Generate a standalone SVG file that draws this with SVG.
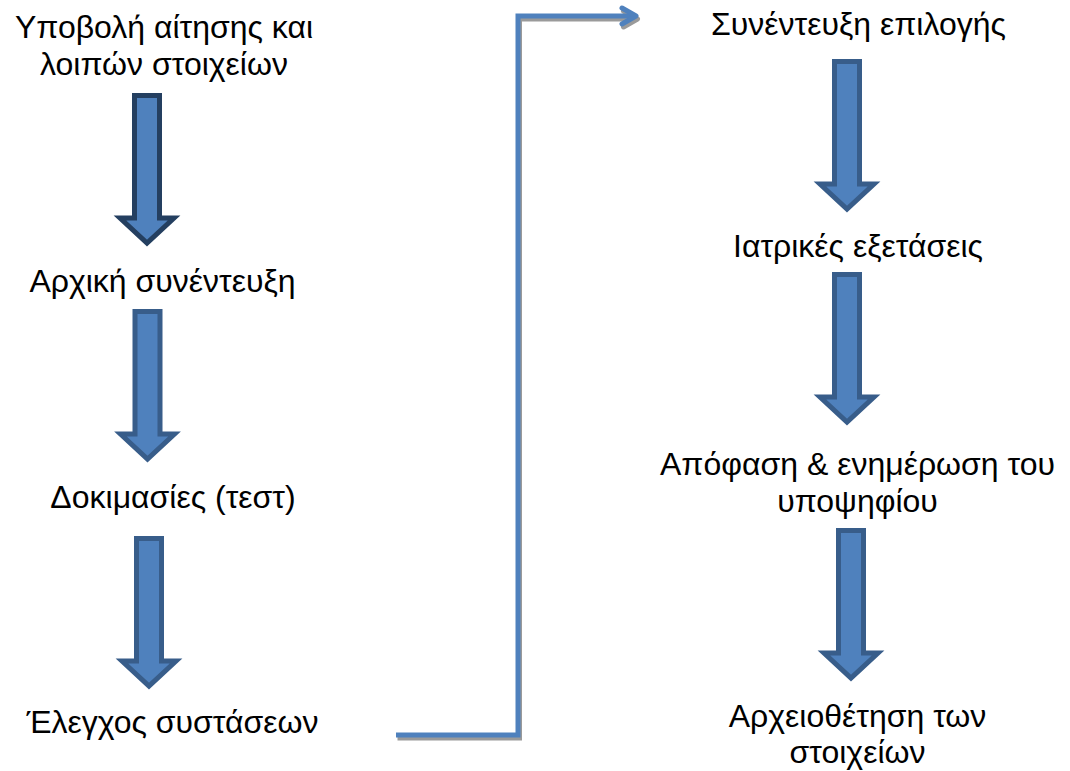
<svg xmlns="http://www.w3.org/2000/svg" width="1070" height="771" viewBox="0 0 1070 771">
<style>
text{font-family:"Liberation Sans",Arial,sans-serif;font-size:32px;fill:#000;text-anchor:middle}
.arr{fill:#4f81bd;stroke:#385d8a;stroke-width:5;stroke-miterlimit:10}
.arr.dark{stroke:#243f60}
.conn{fill:none;stroke:#4f81bd;stroke-width:5}
.shadow{fill:none;stroke:#9a9a9a;stroke-width:5}
</style>
<defs>
<path id="down" d="M-12.5,2.5 H12.5 V125 H27 L0,150 L-27,125 H-12.5 Z"/>
</defs>
<rect width="1070" height="771" fill="#fff"/>
<g id="connectors">
<g id="conn-shadow" transform="translate(1.5,3)">
<path class="shadow" d="M396,735 H518 V16 H636"/>
<path class="shadow" d="M622,8 L636,16 L622,24" stroke-linecap="round" stroke-linejoin="round"/>
</g>
<path class="conn" d="M396,735 H518 V16 H636"/>
<path class="conn" d="M622,8 L636,16 L622,24" stroke-linecap="round" stroke-linejoin="round"/>
<use href="#down" class="arr dark" x="147" y="93"/>
<use href="#down" class="arr" x="147.5" y="309"/>
<use href="#down" class="arr" x="149" y="536"/>
<use href="#down" class="arr" x="847" y="59"/>
<use href="#down" class="arr" x="847" y="272"/>
<use href="#down" class="arr" x="851" y="528"/>
</g>
<g id="n1"><text x="164" y="38">Υποβολή αίτησης και</text><text x="164" y="75">λοιπών στοιχείων</text></g>
<g id="n2"><text x="162.5" y="292">Αρχική συνέντευξη</text></g>
<g id="n3"><text x="173" y="508">Δοκιμασίες (τεστ)</text></g>
<g id="n4"><text x="172.5" y="733">Έλεγχος συστάσεων</text></g>
<g id="n5"><text x="858.5" y="35">Συνέντευξη επιλογής</text></g>
<g id="n6"><text x="858" y="257">Ιατρικές εξετάσεις</text></g>
<g id="n7"><text x="857.5" y="475">Απόφαση &amp; ενημέρωση του</text><text x="857.5" y="512">υποψηφίου</text></g>
<g id="n8"><text x="857.5" y="727">Αρχειοθέτηση των</text><text x="857.5" y="763">στοιχείων</text></g>
</svg>
